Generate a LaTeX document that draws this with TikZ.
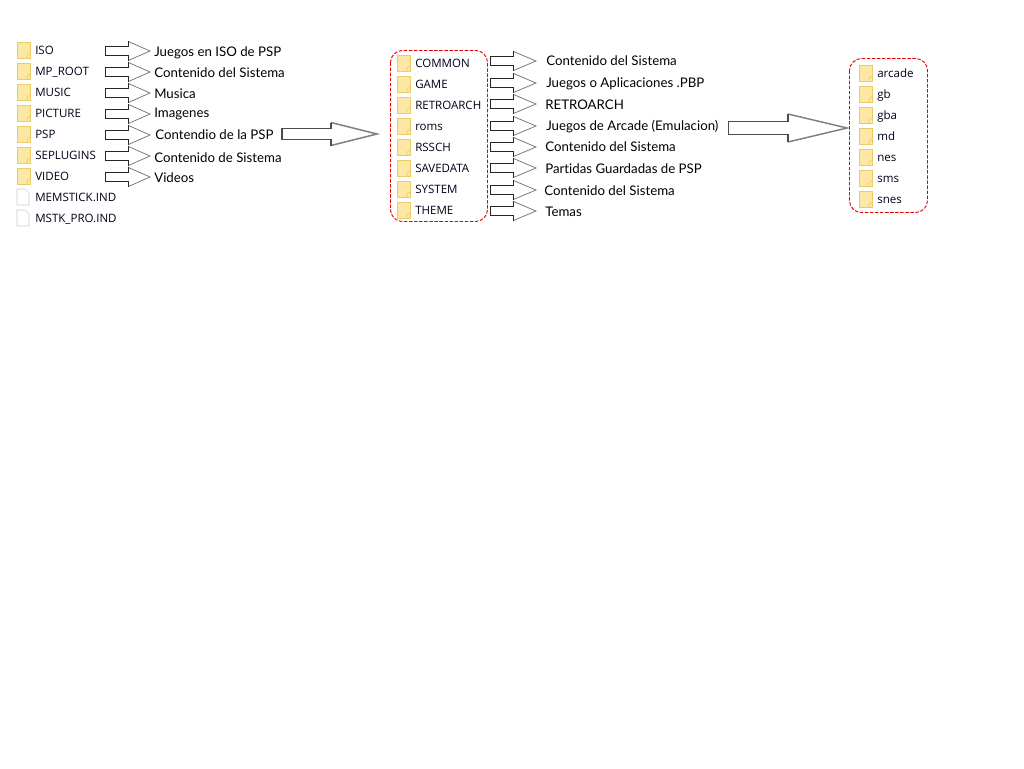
\documentclass[tikz,border=0pt]{standalone}
\usepackage{fontspec}
\setmainfont{Open Sans}
\newfontfamily\labelfont[Ligatures=NoCommon]{Lato}
\definecolor{folderfill}{HTML}{FCE8A4}
\definecolor{folderedge}{HTML}{EBCB6A}
\tikzset{
  x=0.75pt,y=-0.75pt,
  fname/.style={anchor=base west,inner sep=0pt,font=\fontsize{8.65pt}{10pt}\selectfont,text=black!90!blue},
  desc/.style={anchor=base west,inner sep=0pt,font=\labelfont\fontsize{9.95pt}{12pt}\selectfont,text=black},
  dirbox/.style={draw=red!90!black,rounded corners=9pt,line width=0.7pt,dash pattern=on 2.6pt off 1.2pt},
  folderic/.style={draw=folderedge,fill=folderfill,line width=0.5pt},
  fileic/.style={draw=black!20,fill=white,line width=0.5pt},
  shaftsmall/.style={draw=black!85,line width=0.6pt},
  headsmall/.style={draw=black!55,line width=0.55pt},
  shaftbig/.style={draw=black!70,line width=1.1pt},
  headbig/.style={draw=black!50,line width=1.1pt}
}
% #1 x, #2 y, #3 name, #4 text
\newcommand{\folderrow}[4]{%
  \draw[folderic] (#1,#2-8) rectangle (#1+13,#2+8);
  \draw[folderic] (#1+10,#2+8) -- (#1+10,#2+5) -- (#1+13,#2+3);
  \node[fname] (#3) at (#1+18,#2+4.5) {#4};}
\newcommand{\filerow}[4]{%
  \draw[fileic] (#1,#2-8) -- (#1+8,#2-8) -- (#1+12,#2-4) -- (#1+12,#2+8) -- (#1,#2+8) -- cycle;
  \node[fname] (#3) at (#1+18,#2+4.5) {#4};}
% shaft style, head style, left, base, tip, cy, shaft half, head half
\newcommand{\blockarrow}[8]{%
  \fill[white] (#3,#6-#7) -- (#4,#6-#7) -- (#4,#6-#8) -- (#5,#6) -- (#4,#6+#8) -- (#4,#6+#7) -- (#3,#6+#7) -- cycle;
  \draw[#2,line join=miter] (#4,#6-#8) -- (#5,#6) -- (#4,#6+#8);
  \draw[#1,line join=miter] (#4,#6-#8) -- (#4,#6-#7) -- (#3,#6-#7) -- (#3,#6+#7) -- (#4,#6+#7) -- (#4,#6+#8);}
\newcommand{\sarrow}[4]{\blockarrow{shaftsmall}{headsmall}{#1}{#2}{#3}{#4}{4.7}{9.7}}
\begin{document}
\begin{tikzpicture}
\useasboundingbox (0,0) rectangle (1024,768);
\fill[white] (0,0) rectangle (1024,768);
% left column
\folderrow{17}{50}{iso}{ISO}
\folderrow{17}{71}{mproot}{MP\_ROOT}
\folderrow{17}{92}{music}{MUSIC}
\folderrow{17}{113}{picture}{PICTURE}
\folderrow{17}{134}{psp}{PSP}
\folderrow{17}{155}{seplugins}{SEPLUGINS}
\folderrow{17}{176}{video}{VIDEO}
\filerow{17}{197}{memstick}{MEMSTICK.IND}
\filerow{17}{218}{mstk}{MSTK\_PRO.IND}
\sarrow{105}{128}{150}{51}
\sarrow{105}{128}{150}{72}
\sarrow{105}{128}{150}{93}
\sarrow{105}{128}{150}{114}
\sarrow{105}{128}{150}{135}
\sarrow{105}{128}{150}{156}
\sarrow{105}{128}{150}{177}
\node[desc] (d1) at (154,56) {Juegos en ISO de PSP};
\node[desc] (d2) at (154,77) {Contenido del Sistema};
\node[desc] (d3) at (154,98) {Musica};
\node[desc] (d4) at (154,117) {Imagenes};
\node[desc] (d5) at (155,139) {Contendio de la PSP};
\node[desc] (d6) at (154,162) {Contenido de Sistema};
\node[desc] (d7) at (154,182) {Videos};
\blockarrow{shaftbig}{headbig}{282}{331}{377}{134}{5.5}{11.5}
% middle column
\draw[dirbox] (390.5,50.5) rectangle (487.5,221.5);
\folderrow{397}{63}{common}{COMMON}
\folderrow{397}{84}{game}{GAME}
\folderrow{397}{105}{retro}{RETROARCH}
\folderrow{397}{126}{roms}{roms}
\folderrow{397}{147}{rssch}{RSSCH}
\folderrow{397}{168}{savedata}{SAVEDATA}
\folderrow{397}{189}{system}{SYSTEM}
\folderrow{397}{210}{theme}{THEME}
\sarrow{490}{513}{536}{61}
\sarrow{490}{513}{536}{83}
\sarrow{490}{513}{536}{104}
\sarrow{490}{513}{536}{126}
\sarrow{490}{513}{536}{147}
\sarrow{490}{513}{536}{168}
\sarrow{490}{513}{536}{190}
\sarrow{490}{513}{536}{211}
\node[desc] (m1) at (546,65) {Contenido del Sistema};
\node[desc] (m2) at (546,87) {Juegos o Aplicaciones .PBP};
\node[desc] (m3) at (545,109) {RETROARCH};
\node[desc] (m4) at (546,130) {Juegos de Arcade (Emulacion)};
\node[desc] (m5) at (545,151) {Contenido del Sistema};
\node[desc] (m6) at (545,173) {Partidas Guardadas de PSP};
\node[desc] (m7) at (544,195) {Contenido del Sistema};
\node[desc] (m8) at (545,216) {Temas};
\blockarrow{shaftbig}{headbig}{728.5}{788}{847}{128}{6.5}{14}
% right column
\draw[dirbox] (849.5,58.5) rectangle (927.5,212.5);
\folderrow{859}{73}{arcade}{arcade}
\folderrow{859}{94}{gb}{gb}
\folderrow{859}{115}{gba}{gba}
\folderrow{859}{136}{md}{md}
\folderrow{859}{157}{nes}{nes}
\folderrow{859}{178}{sms}{sms}
\folderrow{859}{199}{snes}{snes}
\end{tikzpicture}
\end{document}
